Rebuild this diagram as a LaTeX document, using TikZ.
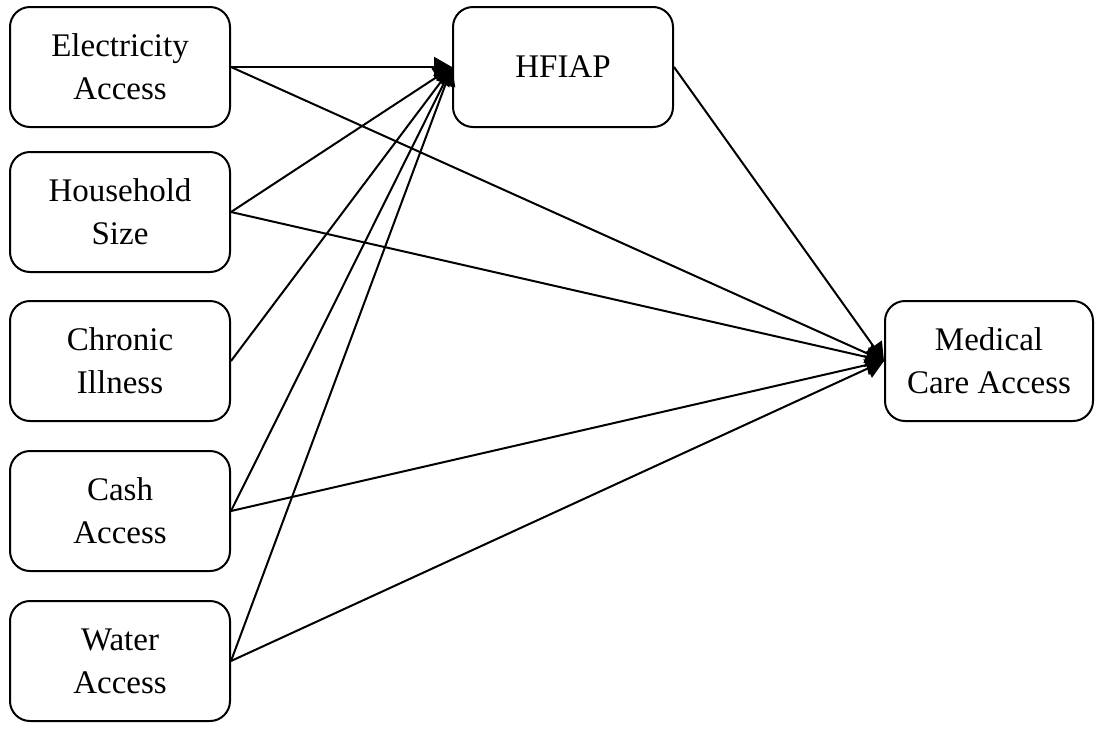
\documentclass[tikz,border=0pt]{standalone}
\usepackage{fontspec}
\setmainfont{Liberation Serif}
\usetikzlibrary{arrows.meta,shapes}

\begin{document}
\begin{tikzpicture}[x=0.5pt, y=-0.5pt,
      nodes={font=\fontsize{16.5}{21.5}\selectfont, align=center},
      box/.style={draw, line width=1pt, rounded corners=10pt,
          minimum width=110pt, minimum height=60pt},
      link/.style={line width=1pt, -{Triangle[length=9pt,width=10pt]}}]
    \useasboundingbox (0,0) rectangle (1096,729);

    \node[box] (elec)  at (120,67)  {Electricity\\Access};
    \node[box] (house) at (120,212) {Household\\Size};
    \node[box] (chron) at (120,361) {Chronic\\Illness};
    \node[box] (cash)  at (120,511) {Cash\\Access};
    \node[box] (water) at (120,661) {Water\\Access};
    \node[box] (hfiap) at (563,67)  {HFIAP};
    \node[box, minimum width=104pt] (med) at (989,361) {Medical\\Care Access};

    \foreach \src in {elec,house,chron,cash,water}
        \draw[link] (\src.east) -- (hfiap.west);
    \foreach \src in {elec,house,cash,water}
        \draw[link] (\src.east) -- (med.west);
    \draw[link] (hfiap.east) -- (med.west);
\end{tikzpicture}
\end{document}
